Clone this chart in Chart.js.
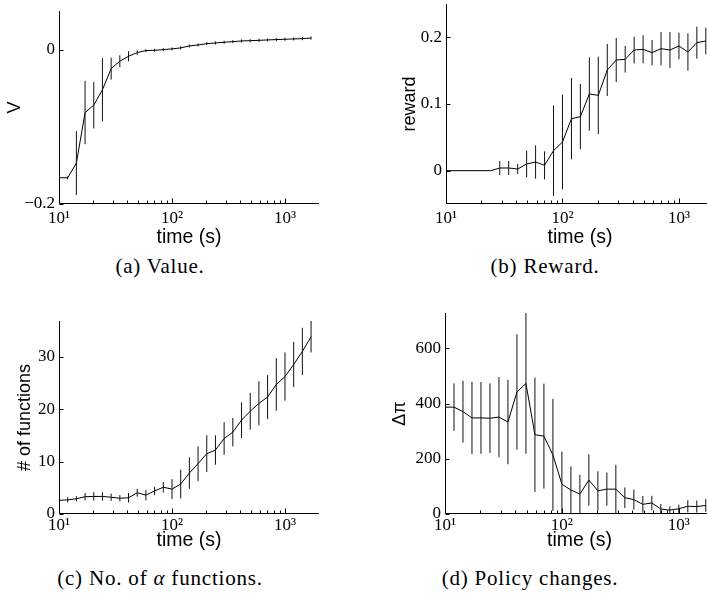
<!DOCTYPE html>
<html>
<head>
<meta charset="utf-8">
<script src="https://cdn.jsdelivr.net/npm/chart.js@4/dist/chart.umd.min.js"></script>
<style>
  html, body { margin: 0; padding: 0; background: #fff; }
  body { width: 707px; height: 596px; overflow: hidden; position: relative; }
  canvas { position: absolute; }
  .cap {
    position: absolute; width: 320px; text-align: center;
    font-family: 'Liberation Serif', serif; font-size: 21px; line-height: 24px;
    letter-spacing: 0.8px; color: #000; white-space: nowrap;
  }
</style>
</head>
<body>
<canvas id="valueChart" width="340" height="250" style="left:0;top:0"></canvas>
<canvas id="rewardChart" width="370" height="250" style="left:350px;top:0"></canvas>
<canvas id="funcChart" width="340" height="252" style="left:0;top:300px"></canvas>
<canvas id="policyChart" width="370" height="252" style="left:350px;top:300px"></canvas>
<div class="cap" style="left:0;top:254px">(a) Value.</div>
<div class="cap" style="left:385px;top:254px">(b) Reward.</div>
<div class="cap" style="left:0;top:566px">(c) No. of <i>α</i> functions.</div>
<div class="cap" style="left:370px;top:566px">(d) Policy changes.</div>
<script>
// sample times (s), log spaced
const times = [10, 11.94, 14.25, 17.01, 20.31, 24.24, 28.94, 34.55, 41.25, 49.24,
  58.78, 70.17, 83.77, 100, 119.4, 142.5, 170.1, 203.1, 242.4, 289.4,
  345.5, 412.5, 492.4, 587.8, 701.7, 837.7, 1000, 1194, 1425, 1701];

// (a) value
const valueMean = [-0.166, -0.166, -0.147, -0.0815, -0.072, -0.052, -0.0246, -0.0151, -0.0086, -0.0039,
  -0.0013, -0.0009, 0, 0.0009, 0.0022, 0.0047, 0.006, 0.0077, 0.0086, 0.0095,
  0.0103, 0.0112, 0.0116, 0.012, 0.0125, 0.013, 0.0134, 0.0138, 0.0142, 0.015];
const valueErr = [0, 0.002, 0.0414, 0.041, 0.030, 0.041, 0.0142, 0.0078, 0.0065, 0.003,
  0.002, 0.002, 0.002, 0.002, 0.002, 0.002, 0.002, 0.002, 0.002, 0.002,
  0.002, 0.002, 0.002, 0.002, 0.002, 0.002, 0.002, 0.002, 0.002, 0.002];

// (b) reward
const rewardMean = [0, 0, 0, 0, 0, 0, 0.004, 0.004, 0.0025, 0.010,
  0.013, 0.008, 0.030, 0.043, 0.078, 0.081, 0.115, 0.113, 0.151, 0.166,
  0.167, 0.181, 0.182, 0.177, 0.183, 0.181, 0.187, 0.178, 0.192, 0.1945];
const rewardErr = [0, 0, 0, 0, 0, 0, 0.0105, 0.0105, 0.0075, 0.020,
  0.025, 0.021, 0.068, 0.071, 0.061, 0.049, 0.055, 0.058, 0.039, 0.033,
  0.020, 0.020, 0.021, 0.019, 0.025, 0.027, 0.020, 0.028, 0.024, 0.020];

// (c) number of alpha functions
const funcMean = [2.6, 2.7, 2.9, 3.3, 3.35, 3.35, 3.2, 3.0, 3.1, 4.05,
  3.6, 4.4, 5.1, 4.75, 5.7, 7.8, 9.6, 11.5, 12.2, 14.4,
  15.6, 17.9, 19.6, 21.1, 22.3, 24.7, 26.2, 28.5, 31.0, 33.8];
const funcErr = [0, 0.5, 0.5, 0.7, 0.8, 0.8, 0.7, 0.6, 0.9, 0.75,
  1.0, 0.8, 1.0, 1.9, 2.75, 3.0, 3.3, 3.5, 2.8, 3.1,
  2.7, 3.4, 3.5, 4.2, 4.2, 5.0, 4.6, 4.3, 4.5, 3.0];

// (d) policy changes
const policyMean = [387, 387, 371, 348, 348, 347, 351, 333, 442, 473,
  287, 282, 214, 108, 87, 72, 123, 84, 90, 90,
  59, 52, 35, 40, 18, 14, 19, 28, 27, 31];
const policyErr = [0, 86, 112, 131, 130, 126, 145, 153, 209, 255,
  207, 190, 203, 118, 85, 70, 93, 71, 60, 88,
  37, 36, 30, 26, 18, 14, 15, 22, 22, 23];

// axis ticks
const xMajorTicks = [10, 100, 1000];
const xTickLabels = ['10\u00b9', '10\u00b2', '10\u00b3'];
const xMinorTicks = [20, 30, 40, 50, 60, 70, 80, 90, 200, 300, 400, 500, 600, 700, 800, 900];
const valueTicks = [-0.2, 0];
const valueTickLabels = ['\u22120.2', '0'];
const rewardTicks = [0, 0.1, 0.2];
const rewardTickLabels = ['0', '0.1', '0.2'];
const funcTicks = [0, 10, 20, 30];
const funcTickLabels = ['0', '10', '20', '30'];
const policyTicks = [0, 200, 400, 600];
const policyTickLabels = ['0', '200', '400', '600'];

Chart.defaults.color = '#000';

// error bars, axis lines and inward tick marks
const matlabAxes = {
  id: 'matlabAxes',
  afterDatasetsDraw(chart) {
    const {ctx, chartArea, scales: {x, y}} = chart;
    const ds = chart.data.datasets[0];
    ctx.save();
    ctx.beginPath();
    ctx.rect(chartArea.left, chartArea.top, chartArea.right - chartArea.left, chartArea.bottom - chartArea.top);
    ctx.clip();
    ctx.strokeStyle = '#111';
    ctx.lineWidth = 1;
    ds.data.forEach((p, i) => {
      const e = ds.errors[i];
      if (!e) return;
      const px = x.getPixelForValue(p.x);
      ctx.beginPath();
      ctx.moveTo(px, y.getPixelForValue(p.y - e));
      ctx.lineTo(px, y.getPixelForValue(p.y + e));
      ctx.stroke();
    });
    ctx.restore();
  },
  afterDraw(chart) {
    const {ctx, chartArea, scales: {x, y}} = chart;
    const l = Math.round(chartArea.left) + 0.5;
    const b = Math.round(chartArea.bottom) - 0.5;
    ctx.save();
    ctx.strokeStyle = '#000';
    ctx.lineWidth = 1;
    ctx.beginPath();
    ctx.moveTo(l, chartArea.top);
    ctx.lineTo(l, b);
    ctx.lineTo(chartArea.right, b);
    xMajorTicks.forEach(v => {
      const px = Math.round(x.getPixelForValue(v)) + 0.5;
      ctx.moveTo(px, b); ctx.lineTo(px, b - 5);
    });
    xMinorTicks.forEach(v => {
      const px = Math.round(x.getPixelForValue(v)) + 0.5;
      ctx.moveTo(px, b); ctx.lineTo(px, b - 3);
    });
    y.ticks.forEach(t => {
      const py = Math.round(y.getPixelForValue(t.value)) + 0.5;
      ctx.moveTo(l, py); ctx.lineTo(l + 4, py);
    });
    ctx.stroke();
    ctx.restore();
  }
};

function makePanel(id, mean, err, yInfo, lay) {
  const pts = times.map((t, i) => ({x: t, y: mean[i]}));
  return new Chart(document.getElementById(id), {
    type: 'line',
    data: {
      datasets: [{
        data: pts,
        errors: err,
        borderColor: '#000',
        borderWidth: 1,
        pointRadius: 0,
        tension: 0,
        fill: false
      }]
    },
    options: {
      responsive: false,
      animation: false,
      events: [],
      layout: {padding: {left: 0, top: lay.top, right: lay.right, bottom: 0}},
      plugins: {legend: {display: false}, tooltip: {enabled: false}},
      scales: {
        x: {
          type: 'logarithmic',
          min: 10,
          max: 2000,
          grid: {display: false, drawTicks: false, tickLength: 0},
          border: {display: false},
          afterBuildTicks: s => { s.ticks = xMajorTicks.map(v => ({value: v})); },
          afterFit: s => { s.height = lay.xh; s.paddingLeft = 0; s.paddingRight = 0; },
          ticks: {
            autoSkip: false, maxRotation: 0, padding: lay.xPad, color: '#000',
            font: {family: 'Liberation Serif', size: 17},
            callback: (v, i) => xTickLabels[i]
          },
          title: {
            display: true, text: 'time (s)', color: '#000',
            font: {family: 'Liberation Sans', size: 19.5},
            padding: {top: 0, bottom: lay.xTitlePad}
          }
        },
        y: {
          type: 'linear',
          min: yInfo.min,
          max: yInfo.max,
          grid: {display: false, drawTicks: false, tickLength: 0},
          border: {display: false},
          afterBuildTicks: s => { s.ticks = yInfo.ticks.map(v => ({value: v})); },
          afterFit: s => { s.width = lay.yw; s.paddingTop = 0; s.paddingBottom = 0; },
          ticks: {
            padding: 4, color: '#000',
            font: {family: 'Liberation Serif', size: 17},
            callback: (v, i) => yInfo.labels[i]
          },
          title: {
            display: true, text: yInfo.title, color: '#000',
            font: {family: 'Liberation Sans', size: 18},
            padding: {top: lay.yTitlePad, bottom: 0}
          }
        }
      }
    },
    plugins: [matlabAxes]
  });
}

makePanel('valueChart', valueMean, valueErr,
  {min: -0.2, max: 0.05, ticks: valueTicks, labels: valueTickLabels, title: 'V'},
  {top: 11, right: 21, yw: 59, xh: 46, xPad: 4, xTitlePad: 1, yTitlePad: 4});
makePanel('rewardChart', rewardMean, rewardErr,
  {min: -0.05, max: 0.25, ticks: rewardTicks, labels: rewardTickLabels, title: 'reward'},
  {top: 4, right: 6, yw: 96, xh: 46, xPad: 4, xTitlePad: 1, yTitlePad: 49});
makePanel('funcChart', funcMean, funcErr,
  {min: 0, max: 36.8, ticks: funcTicks, labels: funcTickLabels, title: '# of functions'},
  {top: 21, right: 21, yw: 59, xh: 38, xPad: 1, xTitlePad: 0, yTitlePad: 14});
makePanel('policyChart', policyMean, policyErr,
  {min: 0, max: 728, ticks: policyTicks, labels: policyTickLabels, title: '\u0394\u03c0'},
  {top: 13, right: 6, yw: 95, xh: 38, xPad: 1, xTitlePad: 0, yTitlePad: 39});
</script>
</body>
</html>
